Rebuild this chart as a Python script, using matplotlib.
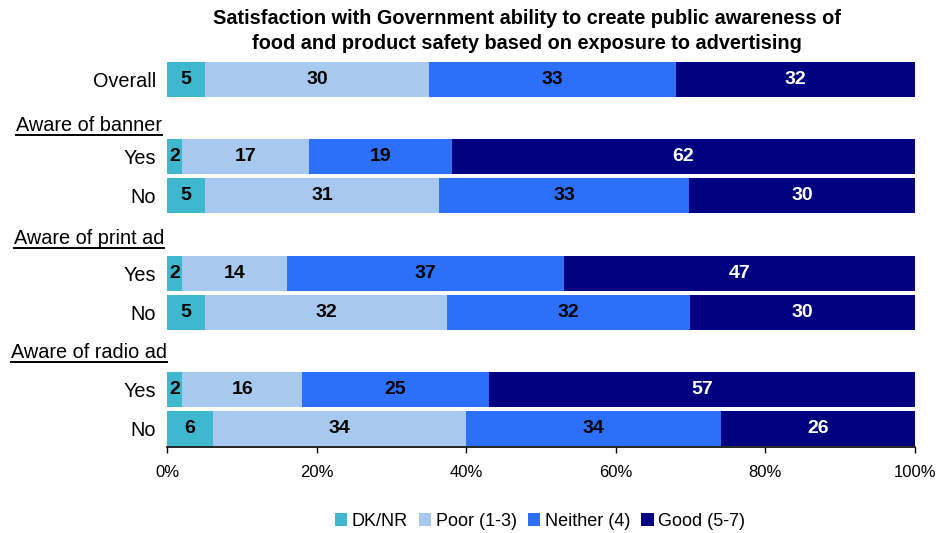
import matplotlib
matplotlib.use("Agg")
import matplotlib.pyplot as plt
from matplotlib.lines import Line2D
from matplotlib.patches import Patch

plt.rcParams['font.family'] = ['Liberation Sans', 'DejaVu Sans']

# Row labels and their slot on the vertical axis (group headings sit in the gaps)
row_labels = ["Overall", "Yes", "No", "Yes", "No", "Yes", "No"]
row_slots = [0, 2, 3, 5, 6, 8, 9]

group_titles = ["Aware of banner", "Aware of print ad", "Aware of radio ad"]
group_slots = [1.2, 4.11, 7.04]

series_names = ["DK/NR", "Poor (1-3)", "Neither (4)", "Good (5-7)"]
series_colors = ["#3FB8CF", "#A7C9EF", "#2C6FF8", "#000080"]
label_colors = ["black", "black", "black", "white"]

# Percentages per row (rows follow row_labels order)
dk_nr = [5.1, 2.0, 5.1, 2.0, 5.1, 2.0, 6.1]
poor = [29.9, 17.0, 31.3, 14.1, 32.4, 16.1, 33.9]
neither = [33.1, 19.1, 33.4, 37.0, 32.4, 24.9, 34.0]
good = [31.9, 61.9, 30.2, 46.9, 30.1, 57.0, 26.0]

series = [dk_nr, poor, neither, good]

xticks = [0, 20, 40, 60, 80, 100]
xtick_labels = ["0%", "20%", "40%", "60%", "80%", "100%"]

W, H = 939, 533
fig = plt.figure(figsize=(W / 100, H / 100), dpi=100)
ax = fig.add_axes([167 / W, (H - 447) / H, 748 / W, 389.1 / H])

left = [0.0] * len(row_labels)
for vals, color, lc in zip(series, series_colors, label_colors):
    bars = ax.barh(row_slots, vals, left=left, height=0.9, color=color, edgecolor="none")
    for b, v in zip(bars, vals):
        ax.text(b.get_x() + b.get_width() / 2, b.get_y() + b.get_height() / 2,
                f"{round(v)}", ha="center", va="center", color=lc,
                fontsize=14, fontweight="bold")
    left = [l + v for l, v in zip(left, vals)]

ax.set_xlim(0, 100)
ax.set_ylim(9.47, -0.55)
ax.set_xticks(xticks)
ax.set_xticklabels(xtick_labels, fontsize=12)
ax.set_yticks(row_slots)
ax.set_yticklabels(row_labels, fontsize=14.3)
ax.tick_params(axis="y", length=0, pad=8)
ax.tick_params(axis="x", direction="out", length=4, width=1, pad=9, color="black")
for s in ["top", "right", "left"]:
    ax.spines[s].set_visible(False)
ax.spines["bottom"].set_linewidth(1.2)

# Group headings, centred in the label column and underlined
fig.canvas.draw()
renderer = fig.canvas.get_renderer()
for title, slot in zip(group_titles, group_slots):
    y_px = ax.transData.transform((0, slot))[1]
    t = fig.text(89 / W, y_px / H, title, ha="center", va="center", fontsize=14.3)
    bb = t.get_window_extent(renderer)
    y_line = (y_px - 9.5) / H
    fig.add_artist(Line2D([bb.x0 / W, bb.x1 / W], [y_line, y_line],
                          color="black", linewidth=1.4, transform=fig.transFigure))

fig.text(527 / W, (H - 19) / H,
         "Satisfaction with Government ability to create public awareness of",
         ha="center", va="center", fontsize=14.3, fontweight="bold")
fig.text(527 / W, (H - 43) / H,
         "food and product safety based on exposure to advertising",
         ha="center", va="center", fontsize=14.3, fontweight="bold")

handles = [Patch(facecolor=c, edgecolor="none") for c in series_colors]
fig.legend(handles, series_names, loc="center", bbox_to_anchor=(540 / W, (H - 521) / H),
           ncol=4, frameon=False, fontsize=13, handlelength=0.7, handleheight=0.7,
           handletextpad=0.25, columnspacing=0.6, borderpad=0)

fig.savefig("out.png", dpi=100)
